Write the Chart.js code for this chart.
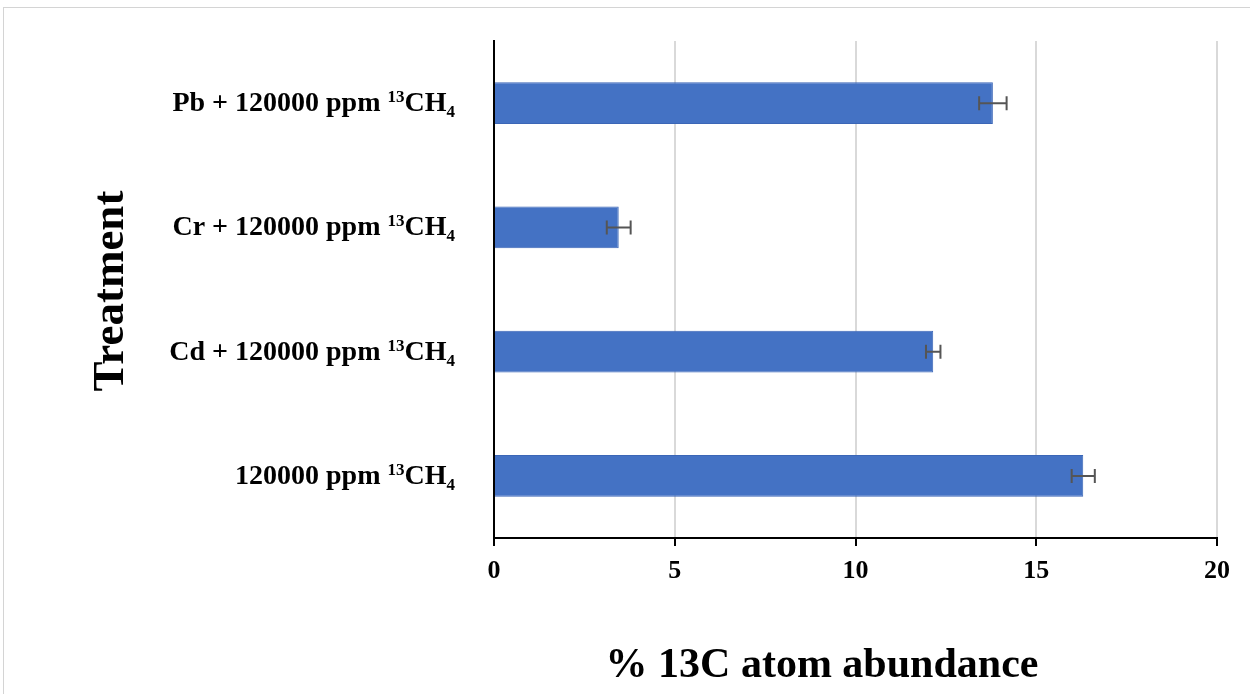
<!DOCTYPE html>
<html>
<head>
<meta charset="utf-8">
<script src="https://cdn.jsdelivr.net/npm/chart.js@4"></script>
<style>
  body { margin: 0; background: #fff; }
</style>
</head>
<body>
<canvas id="mychart" width="1250" height="694"></canvas>
<script>
// data
const categories = ['Pb + 120000 ppm', 'Cr + 120000 ppm', 'Cd + 120000 ppm', '120000 ppm'];
const abundance = [13.8, 3.45, 12.15, 16.3];
const errors = [0.38, 0.33, 0.2, 0.32];
const xTicks = [0, 5, 10, 15, 20];
const xTitle = '% 13C atom abundance';
const yTitle = 'Treatment';

const serif = '"Liberation Serif", "Times New Roman", serif';
let blue = '#4472c4';

// error bars, drawn through the scales
const errorBars = {
  id: 'errorBars',
  afterDatasetsDraw(chart) {
    const ctx = chart.ctx;
    const x = chart.scales.x, y = chart.scales.y;
    ctx.save();
    ctx.strokeStyle = '#555';
    ctx.lineWidth = 2;
    abundance.forEach((v, i) => {
      const yc = y.getPixelForValue(i);
      const x1 = x.getPixelForValue(v - errors[i]);
      const x2 = x.getPixelForValue(v + errors[i]);
      ctx.beginPath();
      ctx.moveTo(x1, yc); ctx.lineTo(x2, yc);
      ctx.moveTo(x1, yc - 7); ctx.lineTo(x1, yc + 7);
      ctx.moveTo(x2, yc - 7); ctx.lineTo(x2, yc + 7);
      ctx.stroke();
    });
    ctx.restore();
  }
};

// category labels with 13CH4 (superscript / subscript), axis titles, frame
const textLayer = {
  id: 'textLayer',
  beforeDraw(chart) {
    const ctx = chart.ctx;
    ctx.save();
    ctx.fillStyle = '#fff';
    ctx.fillRect(0, 0, chart.width, chart.height);
    ctx.strokeStyle = '#d4d4d4';
    ctx.lineWidth = 1;
    ctx.strokeRect(3.5, 7.5, 1260, 700);
    ctx.restore();
  },
  afterDraw(chart) {
    const ctx = chart.ctx;
    const y = chart.scales.y;
    const area = chart.chartArea;
    ctx.save();
    ctx.fillStyle = '#000';
    ctx.textBaseline = 'alphabetic';
    ctx.textAlign = 'left';
    const big = 'bold 28px ' + serif, small = 'bold 17px ' + serif;
    categories.forEach((c, i) => {
      const base = y.getPixelForValue(i) + 8;
      const parts = [
        [c + ' ', big, 0],
        ['13', small, -9],
        ['CH', big, 0],
        ['4', small, 6]
      ];
      let w = 0;
      parts.forEach(p => { ctx.font = p[1]; w += ctx.measureText(p[0]).width; });
      let xx = 455 - w;
      parts.forEach(p => {
        ctx.font = p[1];
        ctx.fillText(p[0], xx, base + p[2]);
        xx += ctx.measureText(p[0]).width;
      });
    });
    // x title
    ctx.font = 'bold 42px ' + serif;
    ctx.textAlign = 'center';
    ctx.fillText(xTitle, 822, 677);
    // y title
    ctx.translate(111, 291);
    ctx.rotate(-Math.PI / 2);
    ctx.font = 'bold 45px ' + serif;
    ctx.textBaseline = 'middle';
    ctx.fillText(yTitle, 0, 0);
    ctx.restore();
  }
};

let myChart = document.getElementById('mychart').getContext('2d');
let massPopChart = new Chart(myChart, {
  type: 'bar',
  data: {
    labels: categories.map(c => c + ' ¹³CH₄'),
    datasets: [
      { label: xTitle,
        data: abundance,
        backgroundColor: blue,
        borderColor: '#3b66b6',
        borderWidth: 1,
        barPercentage: 0.338,
        categoryPercentage: 1
      }
    ]
  },
  options: {
    indexAxis: 'y',
    responsive: false,
    animation: false,
    layout: { padding: { left: 0, right: 33, top: 41, bottom: 0 } },
    scales: {
      x: {
        min: xTicks[0],
        max: xTicks[xTicks.length - 1],
        afterBuildTicks: s => { s.ticks = xTicks.map(v => ({ value: v })); },
        afterFit: s => { s.height = 694 - 538; },
        ticks: {
          color: '#000',
          padding: 10,
          font: { family: serif, weight: 'bold', size: 26 }
        },
        grid: {
          color: c => (c.tick && c.tick.value === 0) ? 'rgba(0,0,0,0)' : '#d9d9d9',
          lineWidth: 2,
          tickColor: '#000',
          tickWidth: 2,
          tickLength: 8
        },
        border: { display: true, color: '#000', width: 2 }
      },
      y: {
        afterFit: s => { s.width = 494; },
        ticks: { display: false },
        grid: { display: false },
        border: { display: true, color: '#000', width: 2 }
      }
    },
    plugins: {
      legend: { display: false },
      tooltip: { enabled: false }
    }
  },
  plugins: [errorBars, textLayer]
});
</script>
</body>
</html>
